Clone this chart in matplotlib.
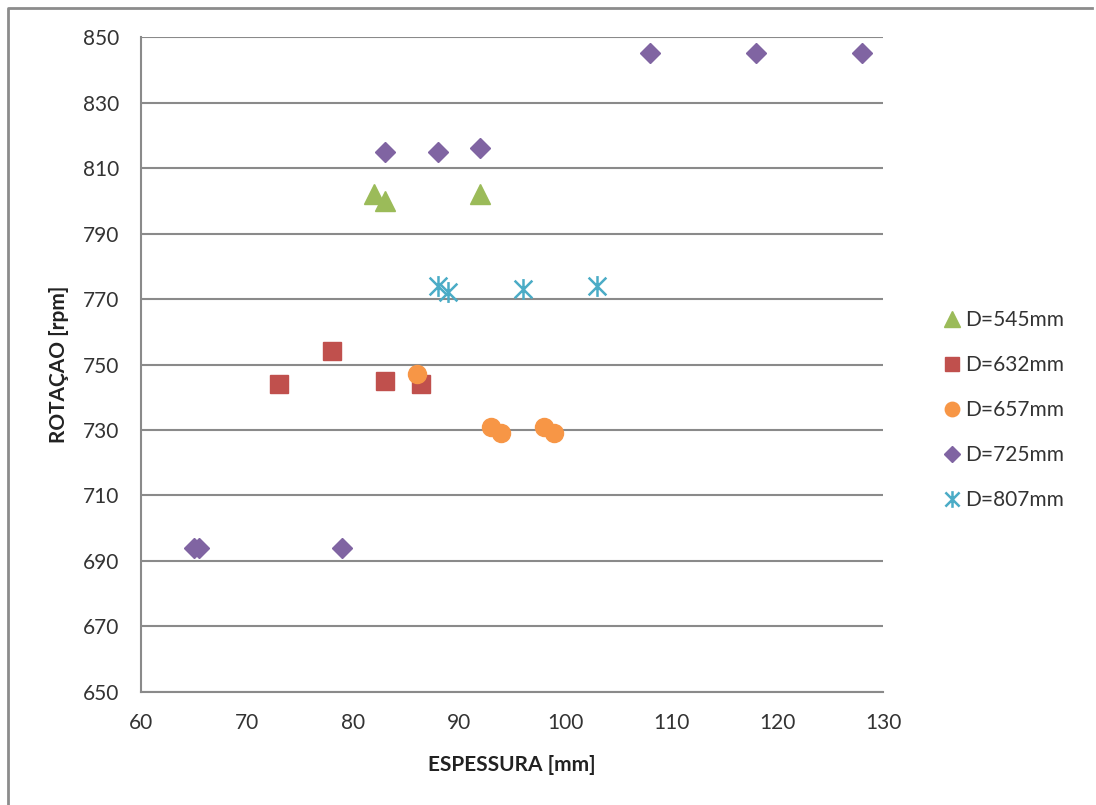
import numpy as np
import matplotlib.pyplot as plt
from matplotlib.path import Path
from matplotlib.lines import Line2D

plt.rcParams['font.family'] = ['Lato', 'DejaVu Sans']

# espessura [mm] x rotacao [rpm] for each diameter
x_545 = [82, 83, 92]
y_545 = [802, 800, 802]

x_632 = [73, 78, 83, 86.4]
y_632 = [744, 754, 745, 744]

x_657 = [86, 93, 94, 98, 99]
y_657 = [747, 731, 729, 731, 729]

x_725 = [65, 65.5, 79, 83, 88, 92, 108, 118, 128]
y_725 = [694, 694, 694, 815, 815, 816, 845, 845, 845]

x_807 = [88, 89, 96, 103]
y_807 = [774, 772, 773, 774]

labels = ['D=545mm', 'D=632mm', 'D=657mm', 'D=725mm', 'D=807mm']

# asterisk marker: vertical bar plus an x
ast = Path(
    [(0, -1), (0, 1), (-0.85, -0.85), (0.85, 0.85), (-0.85, 0.85), (0.85, -0.85)],
    [Path.MOVETO, Path.LINETO, Path.MOVETO, Path.LINETO, Path.MOVETO, Path.LINETO])

fig = plt.figure(figsize=(10.96, 8.05), dpi=100)
ax = fig.add_axes([0.1287, 0.1404, 0.677, 0.8136])

# chart frame: only the top and left edges show
fig.lines.append(Line2D([0.0075, 0.0075, 0.996], [0.0, 0.99, 0.99], transform=fig.transFigure,
                        color='#8c8c8c', linewidth=2))

ax.plot(x_545, y_545, '^', ms=15, color='#9BBB59', mec='#9BBB59', label=labels[0], zorder=3)
ax.plot(x_632, y_632, 's', ms=13, color='#C0504D', mec='#C0504D', label=labels[1], zorder=3)
ax.plot(x_657, y_657, 'o', ms=13, color='#F79646', mec='#F79646', label=labels[2], zorder=3)
ax.plot(x_725, y_725, 'D', ms=10, color='#8064A2', mec='#8064A2', label=labels[3], zorder=3)
ax.plot(x_807, y_807, ls='none', marker=ast, ms=15, mew=1.8, color='#4BACC6',
        mec='#4BACC6', label=labels[4], zorder=3)

ax.set_xlim(60, 130)
ax.set_ylim(650, 850)
ax.set_xticks(np.arange(60, 131, 10))
ax.set_yticks(np.arange(650, 851, 20))
ax.tick_params(length=0, labelsize=15, colors='#333333')
ax.tick_params(axis='y', pad=16)
ax.tick_params(axis='x', pad=15)

ax.grid(axis='y', color='#8a8a8a', linewidth=1.5)
ax.set_axisbelow(True)
for s in ['top', 'right']:
    ax.spines[s].set_visible(False)
for s in ['left', 'bottom']:
    ax.spines[s].set_color('#8a8a8a')
    ax.spines[s].set_linewidth(1.5)

ax.set_xlabel('ESPESSURA [mm]', fontsize=15, fontweight='bold', color='#222222', labelpad=16)
ax.set_ylabel('ROTAÇAO [rpm]', fontsize=15, fontweight='bold', color='#222222', labelpad=10)

leg = ax.legend(loc='center left', bbox_to_anchor=(1.056, 0.43), frameon=False,
                fontsize=15, labelspacing=1.2, handlelength=0.8, handletextpad=0.25,
                markerscale=0.8)
for t in leg.get_texts():
    t.set_color('#333333')

fig.savefig('out.png', dpi=100, facecolor='white')
